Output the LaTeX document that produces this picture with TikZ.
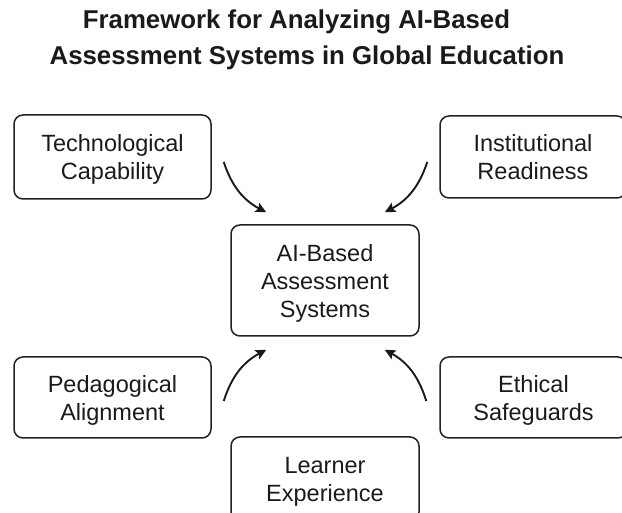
\documentclass[tikz,border=0pt]{standalone}
\usepackage{fontspec}
\setmainfont{Liberation Sans}
\usetikzlibrary{arrows.meta}
\definecolor{ink}{HTML}{1A1A1A}
\definecolor{edge}{HTML}{222222}
\tikzset{
  factor/.style={draw=edge, line width=1.5pt, rounded corners=9pt,
    align=center, text=ink, inner sep=0pt, text depth=0pt,
    font=\fontsize{23.5}{28}\selectfont},
  link/.style={draw=ink, line width=1.9pt,
    -{Stealth[length=10.5pt,width=10pt,inset=2pt]}},
  headline/.style={anchor=base, text=ink, inner sep=0pt,
    font=\bfseries\fontsize{25.8}{36}\selectfont}
}
\begin{document}
\begin{tikzpicture}[x=1pt,y=-1pt]
  \useasboundingbox (0,0) rectangle (622,513);
  \clip (0,0) rectangle (622,513);

  % title
  \node[headline] (title1) at (296.5,29) {Framework for Analyzing AI-Based};
  \node[headline] (title2) at (307,65) {Assessment Systems in Global Education};

  % central system
  \node[factor, minimum width=188pt, minimum height=111pt] (ai) at (325,280.5)
    {AI-Based\\Assessment\\Systems};

  % surrounding factors
  \node[factor, minimum width=197pt, minimum height=84pt] (tc) at (112.5,157)
    {Technological\\Capability};
  \node[factor, minimum width=186pt, minimum height=82pt] (ir) at (533,157)
    {Institutional\\Readiness};
  \node[factor, minimum width=197pt, minimum height=81pt] (pa) at (112.5,397.5)
    {Pedagogical\\Alignment};
  \node[factor, minimum width=187pt, minimum height=81pt] (es) at (533.5,397.5)
    {Ethical\\Safeguards};
  \node[factor, minimum width=188pt, minimum height=84pt] (le) at (325,479)
    {Learner\\Experience};

  % influences pointing at the central system
  \draw[link] ([xshift=12pt,yshift=-5pt]tc.east)
    to[bend right=22] ([xshift=36pt,yshift=12pt]ai.north west);
  \draw[link] ([xshift=-12pt,yshift=-5pt]ir.west)
    to[bend left=22] ([xshift=-35pt,yshift=12pt]ai.north east);
  \draw[link] ([xshift=12pt,yshift=-3.5pt]pa.east)
    to[bend left=22] ([xshift=36pt,yshift=-13pt]ai.south west);
  \draw[link] ([xshift=-13pt,yshift=-3.5pt]es.west)
    to[bend right=22] ([xshift=-35pt,yshift=-13pt]ai.south east);
\end{tikzpicture}
\end{document}
